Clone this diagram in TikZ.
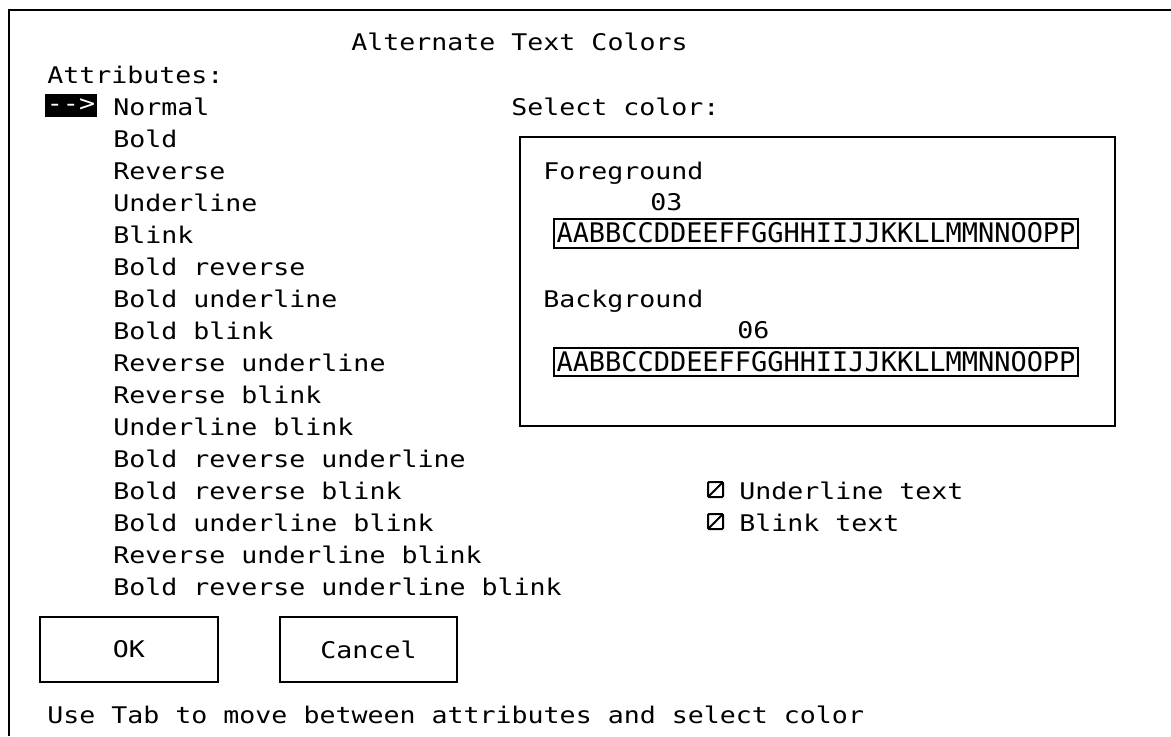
\documentclass[tikz,border=0pt]{standalone}
\usepackage{fontspec}
\setmonofont[FakeStretch=1.16]{DejaVu Sans Mono}
\newfontfamily\barfont{DejaVu Sans Mono}

\begin{document}
\begin{tikzpicture}[x=0.75pt,y=0.75pt,yscale=-1,xscale=1,
  dlgtext/.style={anchor=base west,inner sep=0pt,font=\ttfamily\fontsize{17.2}{20}\selectfont},
  bartext/.style={anchor=base,inner sep=0pt,font=\barfont\fontsize{20.2}{24}\selectfont},
  button/.style={draw,line width=1.5pt,inner sep=0pt,minimum height=48.75pt,font=\ttfamily\fontsize{17.2}{20}\selectfont},
  checkbox/.style={draw,line width=1.5pt,inner sep=0pt,minimum size=11.25pt,rounded corners=0.8pt,
    path picture={\draw[line width=1.5pt] (path picture bounding box.south west) -- (path picture bounding box.north east);}}]
\useasboundingbox (0,0) rectangle (1171,736);

%Shape: Frame
\draw [line width=1.8pt]  (9,736) -- (9,10) -- (1171,10) ;
%Shape: Rectangle
\draw [line width=1.5pt]  (520,137) rectangle (1115,426) ;
%Shape: Rectangle
\draw [line width=1.1pt]  (554,219) rectangle (1078,248) ;
%Shape: Rectangle
\draw [line width=1.1pt]  (554,348) rectangle (1078,376) ;

% Text Node
\node (title) [dlgtext] at (351,50) {Alternate Text Colors};
% Text Node
\node (attrs) [dlgtext] at (47,83) {Attributes:};
% Marker
\node (marker) [fill=black,text=white,inner sep=0pt,minimum width=39pt,minimum height=17.25pt,
  font=\ttfamily\fontsize{17.2}{20}\selectfont] at (71,105.5) {-{}->};

% Text Node
\node (normal) [dlgtext] at (113,115) {Normal};
% Text Node
\node (bold) [dlgtext] at (113,147) {Bold};
% Text Node
\node (reverse) [dlgtext] at (113,179) {Reverse};
% Text Node
\node (underline) [dlgtext] at (113,211) {Underline};
% Text Node
\node (blink) [dlgtext] at (113,243) {Blink};
% Text Node
\node (boldrev) [dlgtext] at (113,275) {Bold reverse};
% Text Node
\node (boldund) [dlgtext] at (113,307) {Bold underline};
% Text Node
\node (boldblink) [dlgtext] at (113,339) {Bold blink};
% Text Node
\node (revund) [dlgtext] at (113,371) {Reverse underline};
% Text Node
\node (revblink) [dlgtext] at (113,403) {Reverse blink};
% Text Node
\node (undblink) [dlgtext] at (113,435) {Underline blink};
% Text Node
\node (boldrevund) [dlgtext] at (113,467) {Bold reverse underline};
% Text Node
\node (boldrevblink) [dlgtext] at (113,499) {Bold reverse blink};
% Text Node
\node (boldundblink) [dlgtext] at (113,531) {Bold underline blink};
% Text Node
\node (revundblink) [dlgtext] at (113,563) {Reverse underline blink};
% Text Node
\node (all) [dlgtext] at (113,595) {Bold reverse underline blink};

% Text Node
\node (selcolor) [dlgtext] at (511,115) {Select color:};
% Text Node
\node (fglabel) [dlgtext] at (543,179) {Foreground};
% Text Node
\node (fgvalue) [dlgtext] at (650,210) {03};
% Text Node
\node (fgcolors) [bartext] at (816,242) {AABBCCDDEEFFGGHHIIJJKKLLMMNNOOPP};
% Text Node
\node (bglabel) [dlgtext] at (543,307) {Background};
% Text Node
\node (bgvalue) [dlgtext] at (737,338) {06};
% Text Node
\node (bgcolors) [bartext] at (816,371) {AABBCCDDEEFFGGHHIIJJKKLLMMNNOOPP};

% Check boxes
\node (undbox) [checkbox] at (715.5,489.5) {};
\node (undtext) [dlgtext] at (739,499) {Underline text};
\node (blinkbox) [checkbox] at (715.5,521.5) {};
\node (blinktext) [dlgtext] at (739,531) {Blink text};

% Buttons
\node (okbtn) [button,minimum width=133.5pt] at (129,649.5) {OK};
\node (cancelbtn) [button,minimum width=132.75pt] at (368.5,649.5) {Cancel};

% Text Node
\node (hint) [dlgtext] at (47,723) {Use Tab to move between attributes and select color};

\end{tikzpicture}
\end{document}
